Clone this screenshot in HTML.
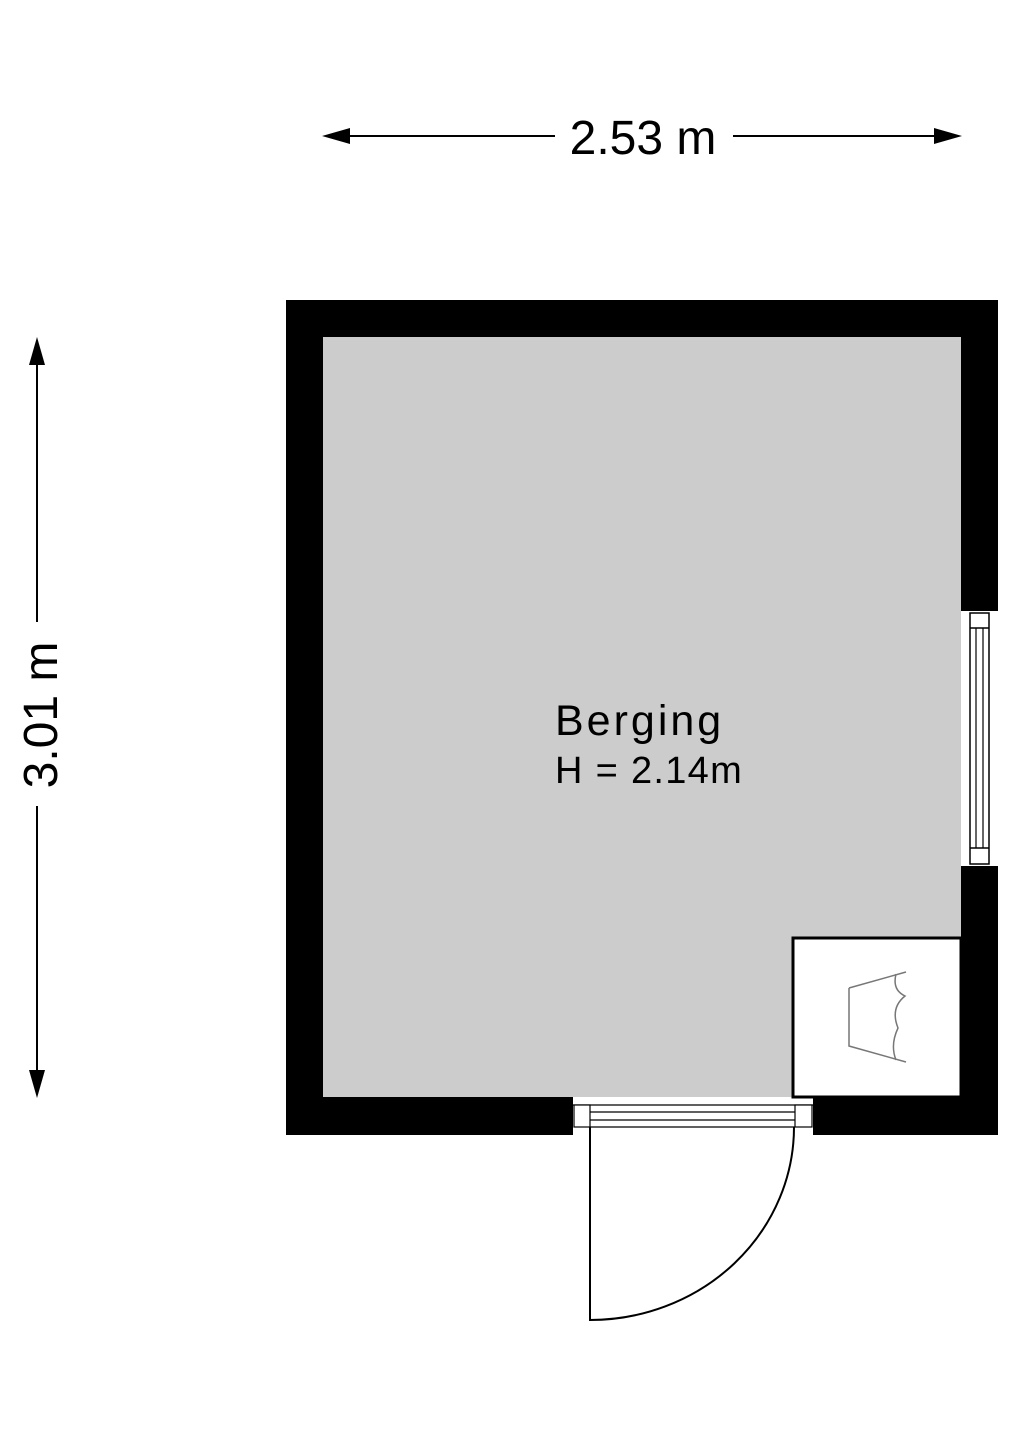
<!DOCTYPE html>
<html><head><meta charset="utf-8"><style>body{margin:0;background:#fff}svg{display:block}</style></head>
<body>
<svg width="1018" height="1440" viewBox="0 0 1018 1440" xmlns="http://www.w3.org/2000/svg">
<rect x="0" y="0" width="1018" height="1440" fill="#fff"/>
<rect x="286" y="300" width="712" height="835" fill="#000"/>
<rect x="323" y="337" width="638" height="760" fill="#cccccc"/>
<rect x="961" y="611" width="38" height="255" fill="#fff"/>
<rect x="970" y="613" width="19" height="251" fill="#fff" stroke="#000" stroke-width="1.5"/>
<line x1="970" y1="628" x2="989" y2="628" stroke="#000" stroke-width="1.5"/>
<line x1="970" y1="848" x2="989" y2="848" stroke="#000" stroke-width="1.5"/>
<line x1="976" y1="628" x2="976" y2="848" stroke="#000" stroke-width="1.2"/>
<line x1="983" y1="628" x2="983" y2="848" stroke="#000" stroke-width="1.2"/>
<rect x="573" y="1097" width="240" height="39" fill="#fff"/>
<line x1="573" y1="1105" x2="813" y2="1105" stroke="#000" stroke-width="1.2"/>
<rect x="574" y="1105" width="16" height="22" fill="#fff" stroke="#000" stroke-width="1.2"/>
<rect x="795" y="1105" width="17" height="22" fill="#fff" stroke="#000" stroke-width="1.2"/>
<line x1="590" y1="1112" x2="795" y2="1112" stroke="#000" stroke-width="1.2"/>
<line x1="590" y1="1120" x2="795" y2="1120" stroke="#000" stroke-width="1.2"/>
<line x1="590" y1="1127" x2="795" y2="1127" stroke="#000" stroke-width="1.2"/>
<path d="M590 1127 L590 1320 A204 193 0 0 0 794 1127" fill="none" stroke="#000" stroke-width="2"/>
<rect x="793" y="938" width="168" height="159" fill="#fff" stroke="#000" stroke-width="3"/>
<g fill="none" stroke="#777" stroke-width="1.5">
<path d="M849 988 L906 972 M849 988 L849 1046 L906 1062"/>
<path d="M896 974 Q892 990 905 996 Q890 1008 898 1028 Q890 1045 896 1060"/>
</g>
<g stroke="#000" stroke-width="2" fill="#000">
<line x1="330" y1="136" x2="555" y2="136"/>
<line x1="733" y1="136" x2="953" y2="136"/>
<path d="M322 136 L350 128 L350 144 Z" stroke="none"/>
<path d="M962 136 L934 128 L934 144 Z" stroke="none"/>
<line x1="37" y1="345" x2="37" y2="622"/>
<line x1="37" y1="806" x2="37" y2="1090"/>
<path d="M37 337 L29 365 L45 365 Z" stroke="none"/>
<path d="M37 1098 L29 1070 L45 1070 Z" stroke="none"/>
</g>
<text x="643" y="154" font-family="Liberation Sans, sans-serif" font-size="48" text-anchor="middle">2.53 m</text>
<text transform="translate(57 715) rotate(-90)" font-family="Liberation Sans, sans-serif" font-size="48" text-anchor="middle">3.01 m</text>
<text x="555" y="735" font-family="Liberation Sans, sans-serif" font-size="43" letter-spacing="3">Berging</text>
<text x="555" y="783" font-family="Liberation Sans, sans-serif" font-size="38" letter-spacing="1.3">H = 2.14m</text>
</svg>
</body></html>
